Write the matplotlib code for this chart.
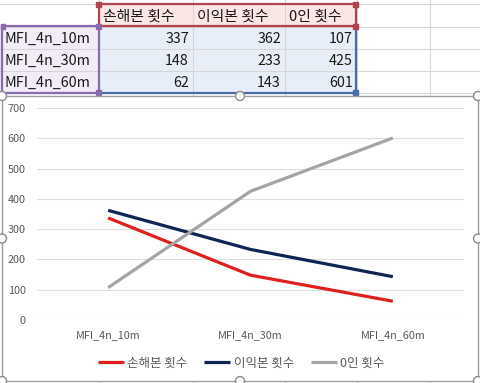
import numpy as np
import matplotlib
matplotlib.use('Agg')
import matplotlib.pyplot as plt
from matplotlib.patches import Rectangle, Circle

plt.rcParams['font.family'] = ['Noto Sans CJK KR', 'DejaVu Sans']

# data from the sheet
categories = ['MFI_4n_10m', 'MFI_4n_30m', 'MFI_4n_60m']
series_names = ['손해본 횟수', '이익본 횟수', '0인 횟수']
loss_counts = [337, 148, 62]
profit_counts = [362, 233, 143]
zero_counts = [107, 425, 601]
y_ticks = [0, 100, 200, 300, 400, 500, 600, 700]

colors = ['#E0201E', '#0E2452', '#A5A5A5']

W, H = 481, 383
fig = plt.figure(figsize=(W / 100, H / 100), dpi=100)

# spreadsheet background, pixel coords
bg = fig.add_axes([0, 0, 1, 1])
bg.set_xlim(0, W)
bg.set_ylim(H, 0)
bg.axis('off')

col_edges = [0, 99, 193, 285, 357, 430, W]
row_edges = [4, 27, 49, 71, 93, H]
for x in col_edges[1:-1]:
    bg.plot([x, x], [0, H], color='#D6D6D6', lw=0.8, zorder=1)
for y in row_edges[:-1]:
    bg.plot([0, W], [y, y], color='#D6D6D6', lw=0.8, zorder=1)

# cell fills
bg.add_patch(Rectangle((col_edges[1], row_edges[0]), col_edges[4] - col_edges[1],
                       row_edges[1] - row_edges[0], color='#FBE6E6', zorder=0.5))
bg.add_patch(Rectangle((0, row_edges[1]), col_edges[1], row_edges[4] - row_edges[1],
                       color='#F1ECF6', zorder=0.5))
bg.add_patch(Rectangle((col_edges[1], row_edges[1]), col_edges[4] - col_edges[1],
                       row_edges[4] - row_edges[1], color='#E8EEF8', zorder=0.5))

# cell texts
fs = 10.3
for j, name in enumerate(series_names):
    bg.text(col_edges[j + 1] + 4, (row_edges[0] + row_edges[1]) / 2 + 1, name,
            ha='left', va='center', fontsize=fs + 0.4, color='#1A1A1A', zorder=3)
table = [loss_counts, profit_counts, zero_counts]
for i, cat in enumerate(categories):
    yc = (row_edges[i + 1] + row_edges[i + 2]) / 2 + 1
    bg.text(5, yc, cat, ha='left', va='center', fontsize=fs, color='#1A1A1A', zorder=3)
    for j in range(3):
        bg.text(col_edges[j + 2] - 4, yc, str(table[j][i]), ha='right', va='center',
                fontsize=fs, color='#1A1A1A', zorder=3)

# range highlight borders
def range_box(x0, y0, x1, y1, c, sides='tblr'):
    if 't' in sides:
        bg.plot([x0, x1], [y0, y0], color=c, lw=1.6, zorder=4)
    if 'b' in sides:
        bg.plot([x0, x1], [y1, y1], color=c, lw=1.6, zorder=4)
    if 'l' in sides:
        bg.plot([x0, x0], [y0, y1], color=c, lw=1.6, zorder=4)
    if 'r' in sides:
        bg.plot([x1, x1], [y0, y1], color=c, lw=1.6, zorder=4)

def handle(x, y, c):
    bg.add_patch(Rectangle((x - 2.5, y - 2.5), 5, 5, color=c, zorder=6))

range_box(101, 28, 356, 93, '#4A6DA7', sides='rb')
range_box(99, 4, 356, 26, '#B0444C')
range_box(2, 26, 99, 93, '#8A6AAE')
for (x, y) in [(99, 4), (356, 4), (356, 26)]:
    handle(x, y, '#B0444C')
for (x, y) in [(3, 26), (99, 26), (99, 92)]:
    handle(x, y, '#8A6AAE')
handle(356, 92, '#4A6DA7')

# chart frame
cx0, cy0, cx1, cy1 = 2, 96, 478, 381
bg.add_patch(Rectangle((cx0, cy0), cx1 - cx0, cy1 - cy0, facecolor='white',
                       edgecolor='#9E9E9E', lw=1.0, zorder=7))
for (x, y) in [(cx0, cy0), ((cx0 + cx1) / 2, cy0), (cx1, cy0), (cx0, (cy0 + cy1) / 2),
               (cx1, (cy0 + cy1) / 2), (cx0, cy1), ((cx0 + cx1) / 2, cy1), (cx1, cy1)]:
    bg.add_patch(Circle((x, y), 4.5, facecolor='white', edgecolor='#8C8C8C', lw=1.0, zorder=8))

# line chart
ax = fig.add_axes([37 / W, (H - 320) / H, 427 / W, 212 / H])
ax.set_facecolor('none')
x = np.arange(len(categories))
for vals, name, c in zip(table, series_names, colors):
    ax.plot(x, vals, color=c, lw=2.3, label=name, solid_capstyle='butt', zorder=3)
ax.set_xlim(-0.5, 2.5)
ax.set_ylim(0, 700)
ax.set_yticks(y_ticks)
ax.set_xticks(x)
ax.set_xticklabels(categories)
ax.grid(axis='y', color='#DEDEDE', lw=0.8)
ax.set_axisbelow(True)
for s in ax.spines.values():
    s.set_visible(False)
ax.tick_params(length=0, labelsize=7.8, colors='#595959')
ax.tick_params(axis='y', pad=8)
ax.tick_params(axis='x', pad=7)

fig.legend(loc='center', bbox_to_anchor=(241 / W, 1 - 363 / H), ncol=3, frameon=False,
           fontsize=9, handlelength=2.1, handletextpad=0.25, columnspacing=1.35,
           labelcolor='#595959')

fig.savefig('out.png', dpi=100)
